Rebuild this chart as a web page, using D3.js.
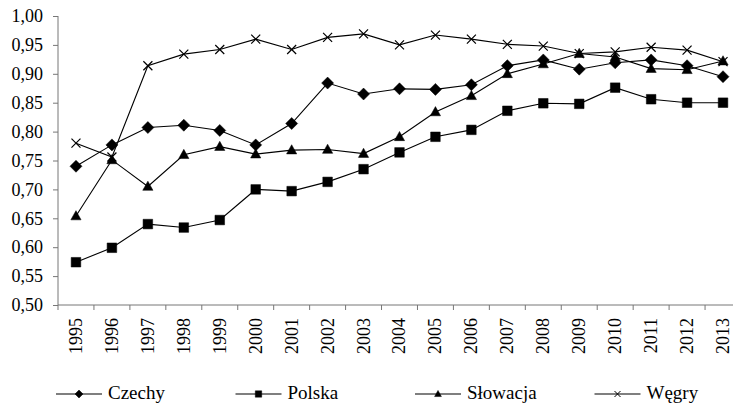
<!DOCTYPE html>
<html>
<head>
<meta charset="utf-8">
<script src="https://cdn.jsdelivr.net/npm/d3@7"></script>
<style>
  body { margin: 0; background: #fff; }
</style>
</head>
<body>
<svg id="chart" width="733" height="406"></svg>
<script>
// categories
var years = ["1995", "1996", "1997", "1998", "1999", "2000", "2001", "2002", "2003", "2004",
             "2005", "2006", "2007", "2008", "2009", "2010", "2011", "2012", "2013"];

// series values
var czechy   = [0.740, 0.777, 0.807, 0.811, 0.802, 0.777, 0.814, 0.884, 0.865, 0.874,
                0.873, 0.881, 0.914, 0.924, 0.908, 0.919, 0.924, 0.914, 0.895];
var polska   = [0.574, 0.599, 0.640, 0.634, 0.647, 0.700, 0.697, 0.713, 0.735, 0.764,
                0.791, 0.803, 0.836, 0.849, 0.848, 0.876, 0.856, 0.850, 0.850];
var slowacja = [0.654, 0.751, 0.705, 0.760, 0.774, 0.761, 0.768, 0.769, 0.762, 0.791,
                0.834, 0.862, 0.900, 0.917, 0.935, 0.929, 0.909, 0.907, 0.922];
var wegry    = [0.780, 0.756, 0.914, 0.934, 0.942, 0.960, 0.942, 0.963, 0.969, 0.950,
                0.967, 0.960, 0.951, 0.948, 0.935, 0.938, 0.946, 0.941, 0.921];

// tick labels
var yTicks = [0.50, 0.55, 0.60, 0.65, 0.70, 0.75, 0.80, 0.85, 0.90, 0.95, 1.00];

var seriesNames = ["Czechy", "Polska", "Słowacja", "Węgry"];
var seriesValues = [czechy, polska, slowacja, wegry];
var seriesMarkers = ["diamond", "square", "triangle", "cross"];

var svg = d3.select("#chart");
var serif = "'Liberation Serif', 'Times New Roman', serif";

// plot area (the right edge runs past the picture, as in the original)
var x = d3.scaleBand().domain(years).range([58, 741]);
var y = d3.scaleLinear().domain([0.5, 1.0]).range([305, 16]);

var axisColor = "#777";
var fmt = function (d) { return d3.format(".2f")(d).replace(".", ","); };

// y axis
var yAxis = svg.append("g")
    .attr("transform", "translate(58,0)")
    .call(d3.axisLeft(y).tickValues(yTicks).tickFormat(fmt).tickSize(5).tickPadding(10));
yAxis.select(".domain").attr("stroke", axisColor).attr("d", "M0," + y(0.5) + "V" + y(1.0));
yAxis.selectAll(".tick line").attr("stroke", axisColor);
yAxis.selectAll(".tick text")
    .attr("fill", "#000")
    .style("font-family", serif)
    .style("font-size", "18px");

// x axis
var xAxis = svg.append("g")
    .attr("transform", "translate(0,305)")
    .call(d3.axisBottom(x).tickSize(0).tickPadding(0));
xAxis.select(".domain").attr("stroke", axisColor).attr("d", "M58,0H741");
xAxis.selectAll(".tick text")
    .attr("fill", "#000")
    .style("font-family", serif)
    .style("font-size", "18px")
    .attr("text-anchor", "end")
    .attr("transform", "translate(0,13) rotate(-90)")
    .attr("x", 0)
    .attr("y", 0)
    .attr("dy", "0.33em");

// x tick marks sit between the categories
svg.append("g")
    .selectAll("line")
    .data(years.concat(["end"]))
    .join("line")
    .attr("x1", function (d, i) { return x.range()[0] + i * x.step(); })
    .attr("x2", function (d, i) { return x.range()[0] + i * x.step(); })
    .attr("y1", 305)
    .attr("y2", 310)
    .attr("stroke", axisColor);

// marker shapes
function markerPath(type, s) {
    if (type === "diamond") {
        return "M0," + (-s) + "L" + s + ",0L0," + s + "L" + (-s) + ",0Z";
    }
    if (type === "square") {
        var h = s * 0.8;
        return "M" + (-h) + "," + (-h) + "H" + h + "V" + h + "H" + (-h) + "Z";
    }
    if (type === "triangle") {
        var t = s * 0.85;
        return "M0," + (-t * 1.05) + "L" + t + "," + (t * 0.75) + "L" + (-t) + "," + (t * 0.75) + "Z";
    }
    var c = s * 0.75;
    return "M" + (-c) + "," + (-c) + "L" + c + "," + c + "M" + c + "," + (-c) + "L" + (-c) + "," + c;
}

var line = d3.line()
    .x(function (d, i) { return x(years[i]) + x.bandwidth() / 2; })
    .y(function (d) { return y(d); });

seriesValues.forEach(function (vals, k) {
    var g = svg.append("g");
    g.append("path")
        .attr("d", line(vals))
        .attr("fill", "none")
        .attr("stroke", "#000")
        .attr("stroke-width", 1.1);
    g.selectAll("path.m")
        .data(vals)
        .join("path")
        .attr("class", "m")
        .attr("transform", function (d, i) {
            return "translate(" + (x(years[i]) + x.bandwidth() / 2) + "," + y(d) + ")";
        })
        .attr("d", markerPath(seriesMarkers[k], 6))
        .attr("fill", seriesMarkers[k] === "cross" ? "none" : "#000")
        .attr("stroke", "#000")
        .attr("stroke-width", seriesMarkers[k] === "cross" ? 1.2 : 0.5);
});

// legend
var legend = svg.append("g")
    .selectAll("g")
    .data(seriesNames)
    .join("g")
    .attr("transform", function (d, i) { return "translate(" + (56 + i * 179.5) + ",394)"; });
legend.append("line")
    .attr("x1", 0).attr("x2", 46)
    .attr("stroke", "#000").attr("stroke-width", 1.1);
legend.append("path")
    .attr("transform", "translate(23,0)")
    .attr("d", function (d, i) { return markerPath(seriesMarkers[i], 4); })
    .attr("fill", function (d, i) { return seriesMarkers[i] === "cross" ? "none" : "#000"; })
    .attr("stroke", "#000")
    .attr("stroke-width", function (d, i) { return seriesMarkers[i] === "cross" ? 1 : 0.5; });
legend.append("text")
    .attr("x", 52)
    .attr("y", 5)
    .style("font-family", serif)
    .style("font-size", "19px")
    .text(function (d) { return d; });
</script>
</body>
</html>
